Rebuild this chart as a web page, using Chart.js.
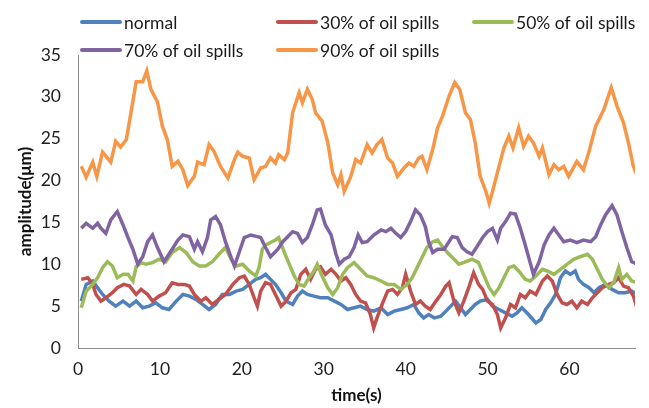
<!DOCTYPE html>
<html>
<head>
<meta charset="utf-8">
<script src="https://cdn.jsdelivr.net/npm/chart.js@4.4.1/dist/chart.umd.min.js"></script>
<style>
  html, body { margin: 0; padding: 0; background: #fff; }
  #wrap { width: 649px; height: 408px; }
</style>
</head>
<body>
<div id="wrap"><canvas id="chart" width="649" height="408"></canvas></div>
<script>
// series names
var seriesLabels = ['normal', '30% of oil spills', '50% of oil spills', '70% of oil spills', '90% of oil spills'];
var seriesColors = ['#4F81BD', '#C0504D', '#9BBB59', '#8064A2', '#F79646'];

// [time(s), amplitude]
var normal = [
  [0.4,5.6],[1,7.6],[1.8,8],[2.4,7.2],[3,6.4],[3.8,5.6],[4.6,5],[5.5,5.6],[6.3,5],[7.1,5.6],
  [7.9,4.8],[8.7,5],[9.5,5.4],[10.3,4.8],[11.1,4.6],[12,5.6],[12.8,6.4],[13.6,6.2],[14.4,5.8],[15.2,5.2],
  [16,4.6],[16.8,5.2],[17.6,6.4],[18.5,6.4],[19.3,6.8],[20.1,7],[20.9,7.6],[21.7,8.2],
  [22.3,8.4],[22.9,8.8],[23.5,8.2],[24.1,7.6],[24.8,6.6],[25.4,5.6],[26.2,5.2],[26.8,6.2],[27.4,6.8],[28,6.4],
  [28.8,6.2],[29.6,6],[30.5,6],[31.3,5.6],[32.1,5.2],[32.9,4.6],[33.7,4.8],[34.5,5],[35.3,4.6],[36.1,4.4],
  [37,4.8],[37.8,4],[38.6,4.4],[39.4,4.6],[40.2,4.8],[41,5.2],[41.6,4.2],[42.2,3.6],[42.8,4],[43.5,3.6],[44.3,3.8],
  [44.9,4.4],[45.5,5],[46.1,5.6],[46.7,4.8],[47.3,4],[47.9,4.6],[48.5,5.2],[49.1,5.6],[50,5.8],[50.6,5],
  [51.4,4.6],[52.2,4.2],[53,3.8],[53.6,4.2],[54.2,4.8],[55,4],[55.9,3],[56.5,3.4],[57.1,4.6],[57.7,5.4],
  [58.3,6.4],[58.9,8.4],[59.5,9.2],[60.1,8.8],[60.7,9.2],[61.1,8.2],[61.7,7.6],[62.4,7.2],[63,6.6],[63.6,7.2],
  [64.4,7.6],[65.2,7],[66,6.6],[66.8,6.6],[67.6,6.8],[68.3,6.4]
];

var spill30 = [
  [0.4,8.2],[1.2,8.4],[1.8,7.6],[2.2,6.4],[2.8,5.6],[3.4,6],[4.2,6.6],[4.8,7.2],[5.6,7.6],[6.3,7.4],
  [7.1,6.4],[7.7,7],[8.5,6.4],[9.1,5.6],[9.9,6.2],[10.7,6.6],[11.5,7.8],[12.2,7.6],[13,7.6],[13.6,7.4],
  [14.2,6.4],[15,5.6],[15.6,6],[16.4,5.2],[17.2,5.8],[18,6.4],[18.9,7.6],[19.7,8.4],[20.3,8.6],[20.9,7.6],
  [21.5,6],[21.9,5],[22.3,6.8],[22.9,7.8],[23.5,7.6],[24.1,6.4],[24.8,5],[25.4,5.6],[26,6.6],[26.6,7],
  [27.2,8.8],[27.8,9.4],[28.4,8.2],[29,9.4],[29.6,9.7],[30.2,8.8],[30.9,9.4],[31.5,8.8],[32.1,8],[32.7,8.4],
  [33.3,7.6],[33.9,6.4],[34.5,5.6],[35.1,5.4],[35.7,4],[36.1,2.4],[36.5,3.6],[37.2,5.4],[37.8,6.8],[38.4,7],
  [39,6.4],[39.6,7.2],[40,8.8],[40.6,6.8],[41.2,5.2],[41.8,5.6],[42.4,5],[43,4.6],[43.7,5.6],[44.3,6.4],
  [44.9,7.4],[45.3,7.8],[45.9,5.6],[46.5,4.2],[47.1,5.6],[47.7,7.2],[48.3,9],[48.9,7.6],[49.4,7],[50,5.6],
  [50.6,5.2],[51.2,4],[51.6,2.4],[52.2,3.6],[52.8,5.2],[53.4,4.8],[54,6.4],[54.6,6],[55.2,6.8],[55.9,6.4],
  [56.7,8],[57.3,8.6],[57.9,8],[58.5,6.4],[59.1,5.4],[59.7,5.2],[60.3,5.6],[60.9,4.8],[61.5,5.6],[62.2,5.2],
  [62.8,6],[63.4,6.6],[64,7.2],[64.8,7.6],[65.4,7.8],[66,8.4],[66.6,7.4],[67.2,7.2],[67.8,6.2],[68.3,4.6]
];

var spill50 = [
  [0.4,4.8],[1,6.8],[1.8,7.6],[2.4,8.4],[3,9.6],[3.6,10.3],[4.2,9.8],[4.8,8.4],[5.5,8.8],[6.1,8.8],
  [6.7,8],[7.1,9.7],[7.7,10.2],[8.3,10],[9.1,10.2],[9.9,10.6],[10.7,10.3],[11.5,11.4],[12.4,12],[13.2,11.4],
  [14,10.3],[14.8,9.8],[15.6,9.8],[16.4,10.3],[17.2,11.2],[18,12],[18.7,10.6],[19.3,9.8],[20.1,10],[20.9,9.2],
  [21.7,8.6],[22.1,9.6],[22.5,11.8],[22.9,12.3],[23.5,12.6],[24.1,12.9],[24.5,13.2],[25.2,11.4],[25.8,10],[26.4,8.6],
  [27,7.6],[27.6,7.4],[28.2,8.4],[28.8,9.2],[29.2,10],[29.8,8.6],[30.5,7.2],[31.1,6.4],[31.7,7.2],[32.3,8.8],
  [32.9,9.6],[33.7,10.2],[34.5,9.4],[35.3,8.6],[36.1,8.4],[37,8],[37.8,7.6],[38.6,7.6],[39.4,7],[40.2,7.6],
  [40.8,8.4],[41.4,9.6],[42,10.8],[42.6,12],[43.3,12.7],[43.9,12.9],[44.5,12.1],[45.1,11.4],[45.7,10.8],[46.5,10],
  [47.3,10.3],[48.1,10.6],[48.9,10.2],[49.5,8.8],[50.2,7.2],[50.8,6.4],[51.4,7.2],[52,8.4],[52.6,9.6],[53.2,9.8],
  [53.8,9.2],[54.6,8.2],[55.2,8],[55.9,8.6],[56.7,9.4],[57.3,9.2],[58.1,8.8],[58.9,9.4],[59.7,10],[60.5,10.6],
  [61.3,10.9],[62.2,11.2],[62.8,10.6],[63.4,9.4],[64,8.2],[64.8,7.2],[65.4,7.8],[66,9.6],[66.4,8.2],[67,8.8],
  [67.6,8],[68.3,7.8]
];

var spill70 = [
  [0.4,14.3],[1,14.9],[1.8,14.3],[2.4,14.9],[2.8,14.3],[3.4,13.7],[4,15.3],[4.8,16.3],[5.5,14.7],[6.1,13.2],
  [6.7,11.8],[7.3,10],[7.9,10.9],[8.5,12.7],[9.1,13.5],[9.7,12],[10.5,10.3],[11.3,11.5],[12.2,12.9],[12.8,13.5],
  [13.6,13.3],[14.2,11.8],[14.6,12.7],[15.2,11.5],[15.8,13.2],[16.2,15.3],[16.8,15.7],[17.4,14.7],[18,12.7],[18.7,10.8],
  [19.1,9.8],[19.7,11.5],[20.3,13.2],[21.1,13.5],[21.9,13.3],[22.3,13.2],[22.9,12],[23.5,10.9],[24.4,11.8],[25,12.7],
  [25.6,13.3],[26.2,13.9],[26.8,13.7],[27.4,12.6],[28,13.2],[28.6,14.7],[29.2,16.5],[29.6,16.6],[30.2,14.7],[30.9,13.5],
  [31.5,11.2],[31.9,10],[32.5,10.6],[33.1,10.9],[33.7,12],[34.2,13.5],[34.7,12.6],[35.3,12.7],[36.1,13.5],[37,14.1],
  [37.6,13.9],[38.2,14.3],[38.8,13.7],[39.4,13.2],[40,13.9],[40.6,15.1],[41.2,16.5],[41.8,15.9],[42.4,14.5],[42.8,12.7],
  [43.3,11.4],[43.9,11.8],[44.7,11.8],[45.7,13.3],[46.3,13.2],[46.9,12],[47.5,11.5],[48.1,11.2],[48.7,12.1],[49.4,13.2],
  [50,13.9],[50.6,14.3],[51.2,12.9],[51.6,14.3],[52.2,15.1],[52.8,16.1],[53.4,16],[54,14.3],[54.6,12.3],[55.2,10.2],
  [55.6,8.8],[56.3,10.3],[56.9,12.3],[57.5,13.5],[58.1,14.3],[58.7,13.5],[59.3,12.7],[60.1,12.9],[60.9,12.6],[61.7,12.9],
  [62.6,12.7],[63.2,13.3],[63.8,14.7],[64.4,15.9],[65.2,17],[65.8,15.9],[66.4,13.9],[67,12],[67.6,10.3],[68.3,10]
];

var spill90 = [
  [0.4,21.7],[1,20.4],[1.8,22.2],[2.3,20.5],[3,23.4],[4,22.2],[4.6,24.7],[5.2,24],[5.9,24.9],[6.5,28.3],
  [7.1,31.8],[7.9,31.8],[8.4,33.1],[8.9,30.9],[9.7,29.4],[10.3,26.5],[10.9,24.9],[11.5,21.7],[12.2,22.3],[12.8,21.3],
  [13.4,19.4],[14.2,20.5],[14.6,22.2],[15.4,21.9],[16,24.3],[16.6,23.5],[17.4,21.7],[18.3,20.3],[19.1,22.5],[19.5,23.4],
  [20.1,22.9],[20.9,22.7],[21.5,20.1],[22.3,21.5],[22.9,21.7],[23.5,22.7],[24.1,22.1],[24.5,23.1],[25.2,22.5],[25.6,23.3],
  [26.2,28.1],[27,30.5],[27.4,29.3],[28,30.9],[28.6,29.7],[29,28.1],[29.8,27.1],[30.5,24.5],[31.1,20.9],[31.7,19.5],
  [32.1,20.7],[32.5,18.7],[33.3,20.5],[33.9,22.5],[34.5,22.1],[35.3,24.3],[35.9,23.3],[36.5,24.3],[37.1,24.9],[37.8,22.7],
  [38.4,22.1],[39,20.5],[39.8,21.5],[40.4,22.1],[41,21.7],[41.6,22.7],[42,22.9],[42.6,21.3],[43.3,23.7],[43.9,26.3],
  [44.5,27.7],[45.3,30.1],[46,31.7],[46.6,30.9],[47.3,28.1],[47.9,27.3],[48.5,24.5],[49.1,20.5],[49.8,18.7],[50.2,17.3],
  [50.6,18.7],[51.4,21.7],[52,23.9],[52.6,25.3],[53.1,23.9],[53.8,26.3],[54.4,24.1],[55,25.3],[55.6,24.5],[56.3,22.9],
  [56.7,23.9],[57.5,20.7],[58.1,21.9],[58.7,21.3],[59.3,21.7],[59.9,20.5],[60.9,22.3],[61.7,21.3],[62.4,23.5],[63.2,26.5],
  [64.2,28.5],[65.1,31.1],[65.8,28.9],[66.6,26.9],[67.2,24.5],[67.8,21.7],[68.3,20.5]
];

var seriesData = [normal, spill30, spill50, spill70, spill90];

// axis ticks
var xTicks = [0, 10, 20, 30, 40, 50, 60];
var yTicks = [0, 5, 10, 15, 20, 25, 30, 35];

var FONT = 'Lato, "Open Sans", sans-serif';

function toPoints(rows) {
  return rows.map(function (r) { return { x: r[0], y: r[1] }; });
}

// legend drawn in two fixed columns like the original
var cornerLegend = {
  id: 'cornerLegend',
  afterDraw: function (chart) {
    var ctx = chart.ctx;
    var cols = [80, 276, 472];
    var rows = [22, 50];
    ctx.save();
    ctx.font = '17.5px ' + FONT;
    ctx.textBaseline = 'middle';
    ctx.textAlign = 'left';
    chart.data.datasets.forEach(function (ds, i) {
      var x = cols[i % 3];
      var y = rows[Math.floor(i / 3)];
      ctx.strokeStyle = ds.borderColor;
      ctx.lineWidth = 4;
      ctx.lineCap = 'round';
      ctx.beginPath();
      ctx.moveTo(x + 2, y);
      ctx.lineTo(x + 40, y);
      ctx.stroke();
      ctx.fillStyle = '#1a1a1a';
      ctx.fillText(ds.label, x + 44, y + 1);
    });
    ctx.restore();
  }
};

var datasets = [];
for (var i = 0; i < seriesData.length; i++) {
  datasets.push({
    label: seriesLabels[i],
    data: toPoints(seriesData[i]),
    borderColor: seriesColors[i],
    backgroundColor: seriesColors[i],
    borderWidth: 3.5,
    pointRadius: 0,
    tension: 0,
    fill: false,
    order: seriesData.length - i
  });
}

new Chart(document.getElementById('chart'), {
  type: 'line',
  data: { datasets: datasets },
  options: {
    responsive: false,
    animation: false,
    events: [],
    layout: { padding: { top: 55, left: 15, right: 14, bottom: 2 } },
    plugins: {
      legend: { display: false },
      tooltip: { enabled: false }
    },
    scales: {
      x: {
        type: 'linear',
        min: 0,
        max: 68,
        afterBuildTicks: function (scale) {
          scale.ticks = xTicks.map(function (v) { return { value: v }; });
        },
        afterFit: function (scale) { scale.height = 58; },
        grid: { display: true, drawOnChartArea: false, drawTicks: false },
        border: { display: true, color: '#8c8c8c', width: 1 },
        ticks: {
          padding: 11,
          maxRotation: 0,
          color: '#222',
          font: { family: FONT, size: 17.5 }
        },
        title: {
          display: true,
          text: 'time(s)',
          color: '#111',
          padding: { top: 0, bottom: 0 },
          font: { family: FONT, size: 17, weight: 'bold' }
        }
      },
      y: {
        min: 0,
        max: 35,
        afterBuildTicks: function (scale) {
          scale.ticks = yTicks.map(function (v) { return { value: v }; });
        },
        afterFit: function (scale) { scale.width = 63; },
        grid: { display: true, drawOnChartArea: false, drawTicks: false },
        border: { display: true, color: '#8c8c8c', width: 1 },
        ticks: {
          padding: 17,
          color: '#222',
          font: { family: FONT, size: 17.5 }
        },
        title: {
          display: true,
          text: 'amplitude(μm)',
          color: '#111',
          padding: { top: 0, bottom: 0 },
          font: { family: FONT, size: 17, weight: 'bold' }
        }
      }
    }
  },
  plugins: [cornerLegend]
});
</script>
</body>
</html>
